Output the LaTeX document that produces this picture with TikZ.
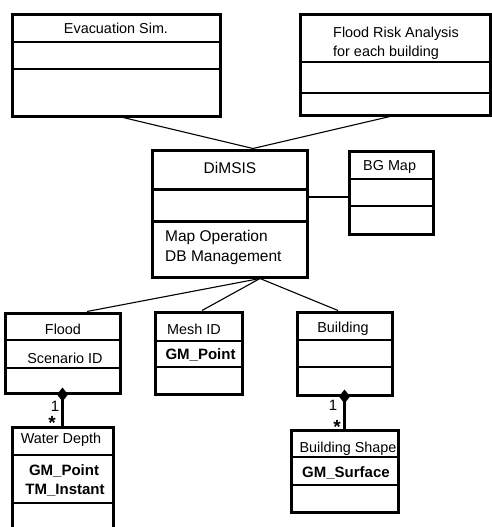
\documentclass[tikz,border=0pt]{standalone}
\usepackage{fontspec}
\setmainfont{Liberation Sans}
\usetikzlibrary{arrows.meta,positioning}
\tikzset{
  classbox/.style={draw, line width=3pt, inner sep=0pt},
  divider/.style={line width=1.3pt},
  thickdivider/.style={line width=3pt},
  link/.style={line width=1.1pt},
  assoc/.style={line width=2.4pt, {Diamond[length=14pt,width=11pt]}-},
  classtext/.style={inner sep=0pt, font=\fontsize{14.4}{19}\selectfont},
  attrtext/.style={inner sep=0pt, font=\fontsize{15}{19}\selectfont\bfseries},
  maintext/.style={inner sep=0pt, font=\fontsize{15.5}{19.5}\selectfont},
  mult/.style={inner sep=0pt, font=\fontsize{15}{15}\selectfont},
  star/.style={inner sep=0pt, font=\fontsize{19}{19}\selectfont\bfseries},
}

\begin{document}
\begin{tikzpicture}[x=1pt,y=-1pt]
  \useasboundingbox (0,0) rectangle (492,527);
  \clip (0,0) rectangle (492,527);

  % upper classes
  \node[classbox, minimum width=208pt, minimum height=101pt] (evac) at (116,65.5) {};
  \draw[divider] (evac.west |- 0,42) -- (evac.east |- 0,42);
  \draw[divider] (evac.west |- 0,69) -- (evac.east |- 0,69);
  \node[classtext] (evactitle) at (116,28) {Evacuation Sim.};

  \node[classbox, minimum width=190pt, minimum height=100pt] (risk) at (395,65) {};
  \draw[divider] (risk.west |- 0,62) -- (risk.east |- 0,62);
  \draw[divider] (risk.west |- 0,93) -- (risk.east |- 0,93);
  \node[classtext, align=left, anchor=west] (risktitle) at (333,43.5) {Flood Risk Analysis\\for each building};

  \node[classbox, minimum width=155pt, minimum height=127pt] (dimsis) at (229.5,213.5) {};
  \draw[thickdivider] (dimsis.west |- 0,189) -- (dimsis.east |- 0,189);
  \draw[thickdivider] (dimsis.west |- 0,221) -- (dimsis.east |- 0,221);
  \node[maintext] (dimsistitle) at (230,168) {DiMSIS};
  \node[maintext, align=left, anchor=west] (dimsisops) at (165,247.5) {Map Operation\\DB Management};

  \node[classbox, minimum width=84pt, minimum height=83pt] (bgmap) at (391,192.5) {};
  \draw[divider] (bgmap.west |- 0,179) -- (bgmap.east |- 0,179);
  \draw[divider] (bgmap.west |- 0,206) -- (bgmap.east |- 0,206);
  \node[classtext, anchor=west] (bgmaptitle) at (363,167) {BG Map};

  % lower classes
  \node[classbox, minimum width=115pt, minimum height=80pt] (flood) at (62.5,353) {};
  \draw[divider] (flood.west |- 0,340) -- (flood.east |- 0,340);
  \draw[divider] (flood.west |- 0,368) -- (flood.east |- 0,368);
  \node[classtext] (floodtitle) at (63,329) {Flood};
  \node[classtext] (floodattr) at (65,358) {Scenario ID};

  \node[classbox, minimum width=87pt, minimum height=82pt] (mesh) at (198.5,353) {};
  \draw[divider] (mesh.west |- 0,341) -- (mesh.east |- 0,341);
  \draw[divider] (mesh.west |- 0,367) -- (mesh.east |- 0,367);
  \node[classtext] (meshtitle) at (194,329) {Mesh ID};
  \node[attrtext] (meshattr) at (200.5,355) {GM\_Point};

  \node[classbox, minimum width=95pt, minimum height=83pt] (building) at (344.5,353.5) {};
  \draw[divider] (building.west |- 0,340) -- (building.east |- 0,340);
  \draw[divider] (building.west |- 0,367) -- (building.east |- 0,367);
  \node[classtext] (buildingtitle) at (343,329) {Building};

  \node[classbox, minimum width=101pt, minimum height=118pt] (water) at (62.5,486) {};
  \draw[divider] (water.west |- 0,455) -- (water.east |- 0,455);
  \draw[divider] (water.west |- 0,503) -- (water.east |- 0,503);
  \node[classtext] (watertitle) at (61,440) {Water Depth};
  \node[attrtext] (waterpoint) at (64,471) {GM\_Point};
  \node[attrtext] (waterinstant) at (65,490) {TM\_Instant};

  \node[classbox, minimum width=107pt, minimum height=82pt] (bshape) at (344.5,471) {};
  \draw[divider] (bshape.west |- 0,457) -- (bshape.east |- 0,457);
  \draw[divider] (bshape.west |- 0,485) -- (bshape.east |- 0,485);
  \node[classtext] (bshapetitle) at (348,449) {Building Shape};
  \node[attrtext] (bshapeattr) at (346,473) {GM\_Surface};

  % connectors
  \draw[link] ([xshift=7pt]evac.south) -- ([xshift=23.5pt]dimsis.north);
  \draw[link] ([xshift=-5pt]risk.south) -- ([xshift=23.5pt]dimsis.north);
  \draw[link] ([yshift=16.5pt]dimsis.east) -- ([yshift=-4.5pt]bgmap.west);
  \draw[link] ([xshift=30.5pt]dimsis.south) -- ([xshift=24.5pt]flood.north);
  \draw[link] ([xshift=30.5pt]dimsis.south) -- ([xshift=3.5pt]mesh.north);
  \draw[link] ([xshift=30.5pt]dimsis.south) -- ([xshift=-6.5pt]building.north);

  \draw[assoc] ([yshift=7pt]flood.south) -- (water.north);
  \node[mult] (floodone) at (55,406) {1};
  \node[star] (waterstar) at (52,423) {*};

  \draw[assoc] ([yshift=7pt]building.south) -- (bshape.north);
  \node[mult] (buildingone) at (333,405) {1};
  \node[star] (bshapestar) at (337,427) {*};
\end{tikzpicture}
\end{document}
